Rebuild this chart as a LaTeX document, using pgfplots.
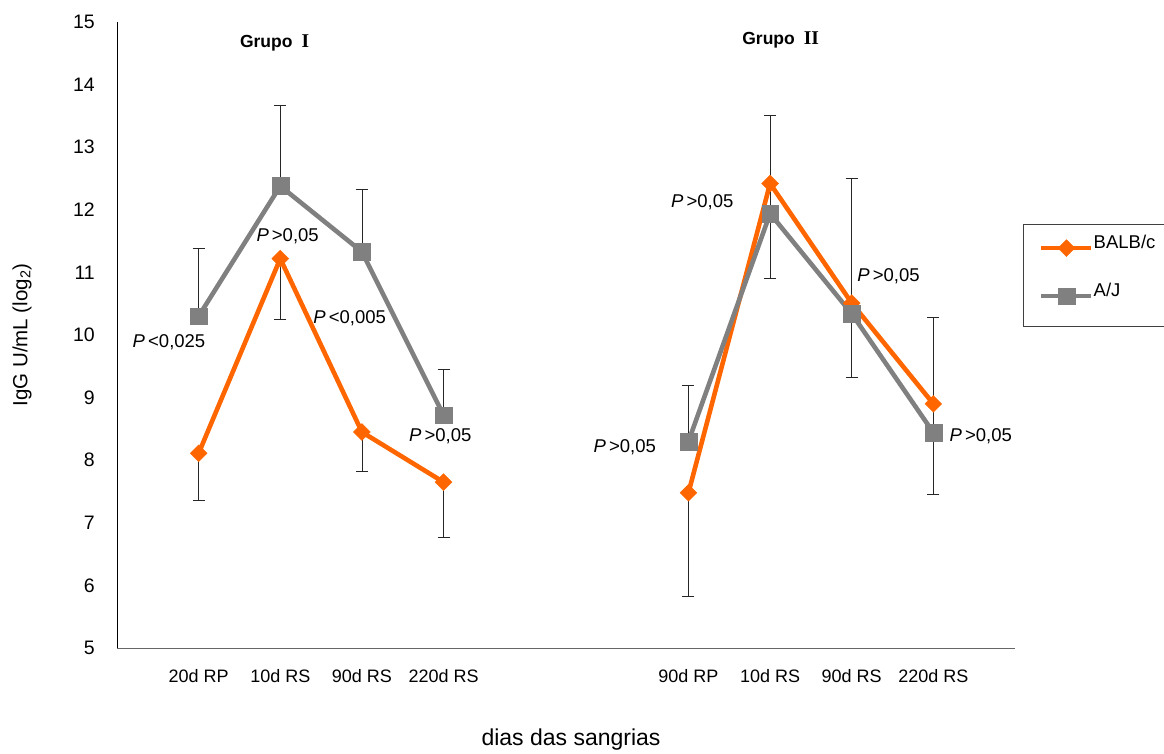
\documentclass[border=0pt]{standalone}
\usepackage{pgfplots}
\pgfplotsset{compat=1.18}
\usepackage{fontspec}
\setmainfont{Liberation Sans}
\newfontfamily\seriffont{Liberation Serif}
\definecolor{balb}{HTML}{FF6600}
\definecolor{aj}{HTML}{808080}
\begin{document}
\begin{tikzpicture}
\begin{axis}[
 scale only axis, width=898pt, height=626pt,
 xmin=0, xmax=11, ymin=5, ymax=15,
 axis x line=bottom, axis y line=left,
 x axis line style={-, draw=black!60, line width=1pt},
 y axis line style={-, draw=black, line width=0.9pt},
 xtick={1,2,3,4,7,8,9,10},
 xticklabels={20d RP,10d RS,90d RS,220d RS,90d RP,10d RS,90d RS,220d RS},
 ytick={5,6,...,15},
 major tick length=0pt,
 tick style={draw=none},
 /pgf/number format/assume math mode=true,
 yticklabel style={font=\fontsize{19.5}{20}\selectfont, anchor=east, inner sep=0pt, xshift=-22pt},
 xticklabel style={font=\fontsize{18}{20}\selectfont, anchor=north, inner sep=0pt, yshift=-21pt},
 ylabel={IgG U/mL (log\textsubscript{2})},
 xlabel={dias das sangrias},
 every axis y label/.style={at={(axis description cs:-0.1058,0.5)}, rotate=90, anchor=center, font=\fontsize{20.5}{22}\selectfont},
 every axis x label/.style={at={(axis description cs:0.5056,-0.147)}, anchor=center, font=\fontsize{23}{24}\selectfont},
 clip=false,
 legend style={at={(axis cs:11.293,11.535)}, anchor=north west, draw=none, fill=none,
   inner sep=0pt, row sep=30pt, column sep=0pt,
   nodes={inner sep=0pt, text height=9pt, text depth=9pt, anchor=west},
   font=\fontsize{18.5}{20}\selectfont},
 legend cell align=left,
 legend image code/.code={\draw[#1, mark repeat=2, mark phase=2] plot coordinates {(0pt,0pt) (25pt,0pt) (50pt,0pt)};},
 error bars/error bar style={line width=0.8pt, black!85},
 error bars/error mark options={line width=0.8pt, black!85, mark size=6pt, rotate=90},
]
% BALB/c, Grupo I
\addplot[balb, line width=4.6pt, mark=square*, mark size=6pt,
  mark options={rotate=45, fill=balb, draw=balb, line width=0.3pt},
  error bars/.cd, y dir=minus, y explicit]
  coordinates {(1,8.11) -= (0,0.75) (2,11.22) -= (0,0.97) (3,8.45) -= (0,0.63) (4,7.65) -= (0,0.88)};
\addlegendentry{BALB/c}
% A/J, Grupo I
\addplot[aj, line width=4.6pt, mark=square*, mark size=8.4pt,
  mark options={fill=aj, draw=aj, line width=0.3pt},
  error bars/.cd, y dir=plus, y explicit]
  coordinates {(1,10.30) += (0,1.09) (2,12.38) += (0,1.28) (3,11.33) += (0,1.00) (4,8.72) += (0,0.73)};
\addlegendentry{A/J}
% BALB/c, Grupo II
\addplot[forget plot, balb, line width=4.6pt, mark=square*, mark size=6pt,
  mark options={rotate=45, fill=balb, draw=balb, line width=0.3pt},
  error bars/.cd, y dir=minus, y explicit]
  coordinates {(7,7.48) -= (0,1.65) (8,12.42) -= (0,1.51) (9,10.51) -= (0,1.18) (10,8.90) -= (0,1.45)};
% A/J, Grupo II
\addplot[forget plot, aj, line width=4.6pt, mark=square*, mark size=8.4pt,
  mark options={fill=aj, draw=aj, line width=0.3pt},
  error bars/.cd, y dir=plus, y explicit]
  coordinates {(7,8.30) += (0,0.89) (8,11.94) += (0,1.56) (9,10.34) += (0,2.16) (10,8.44) += (0,1.84)};

\begin{scope}[every node/.style={font=\fontsize{18.5}{20}\selectfont, inner sep=0pt}]
\node at (axis cs:0.637,9.88) {\textit{P}\,<0,025};
\node at (axis cs:2.09,11.58) {\textit{P}\,>0,05};
\node at (axis cs:2.85,10.27) {\textit{P}\,<0,005};
\node at (axis cs:3.96,8.38) {\textit{P}\,>0,05};
\node at (axis cs:7.17,12.12) {\textit{P}\,>0,05};
\node at (axis cs:9.45,10.94) {\textit{P}\,>0,05};
\node at (axis cs:6.22,8.21) {\textit{P}\,>0,05};
\node at (axis cs:10.58,8.38) {\textit{P}\,>0,05};
\end{scope}
\node[inner sep=0pt] at (axis cs:1.93,14.66) {\fontsize{17.5}{20}\selectfont\bfseries Grupo\hspace{9pt}{\seriffont\fontsize{19.5}{20}\selectfont I}};
\node[inner sep=0pt] at (axis cs:8.13,14.71) {\fontsize{17.5}{20}\selectfont\bfseries Grupo\hspace{9pt}{\seriffont\fontsize{19.5}{20}\selectfont II}};
\draw[black!75, line width=0.9pt] (axis cs:11.109,11.773) rectangle (axis cs:12.95,10.144);
\end{axis}
\pgfresetboundingbox
\useasboundingbox ([shift={(-117pt,-105pt)}]current axis.south west) rectangle ([shift={(1047pt,648pt)}]current axis.south west);
\end{tikzpicture}
\end{document}
